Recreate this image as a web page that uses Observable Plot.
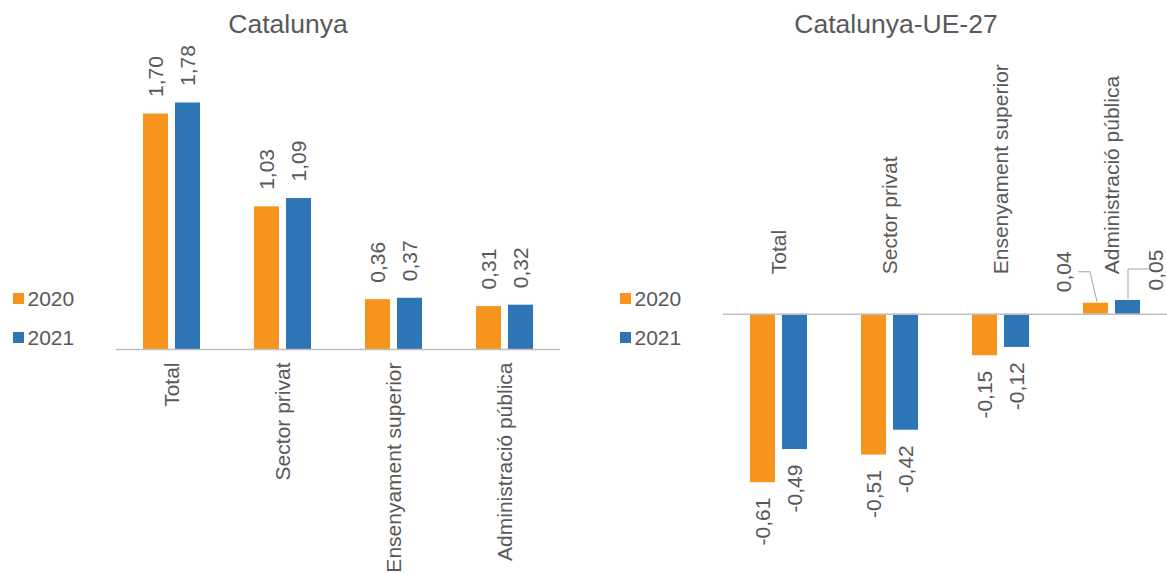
<!DOCTYPE html>
<html><head><meta charset="utf-8">
<script src="https://cdn.jsdelivr.net/npm/d3@7"></script>
<script src="https://cdn.jsdelivr.net/npm/@observablehq/plot@0.6"></script>
<style>
body{margin:0;background:#fff;}
#wrap{position:relative;width:1167px;height:573px;overflow:hidden;font-family:"Liberation Sans",Arial,sans-serif;color:#595959;background:#fff;}
.panel{position:absolute;top:0;}
.title{position:absolute;top:11px;font-size:26.5px;line-height:26px;text-align:center;white-space:nowrap;}
.lg{position:absolute;font-size:21px;line-height:21px;white-space:nowrap;}
.sw{position:absolute;width:10.5px;height:11px;}
</style></head><body><div id="wrap"></div>
<script>
// ---- data ----
const categories = ["Total", "Sector privat", "Ensenyament superior", "Administració pública"];
const years = ["2020", "2021"];
const colors = ["#F7941D", "#2E75B6"];
const titles = ["Catalunya", "Catalunya-UE-27"];
const catalunya2020 = [1.70, 1.03, 0.36, 0.31];
const catalunya2021 = [1.78, 1.09, 0.37, 0.32];
const diffUE2020 = [-0.61, -0.51, -0.15, 0.04];
const diffUE2021 = [-0.49, -0.42, -0.12, 0.05];

const fmt = v => v.toFixed(2).replace(".", ",");
const rows = (vals, year) => categories.map((c, i) => ({cat: c, year, value: vals[i]}));
const FONT = '"Liberation Sans", Arial, sans-serif';
const style = {fontFamily: FONT, fontSize: "21px", color: "#595959", background: "transparent", overflow: "visible"};
const AXIS = "#bfbfbf";

const wrap = document.getElementById("wrap");

// ---- left panel: Catalunya ----
const L20 = rows(catalunya2020, years[0]), L21 = rows(catalunya2021, years[1]);
const left = Plot.plot({
  width: 583, height: 573,
  marginLeft: 116, marginRight: 23, marginTop: 72, marginBottom: 224,
  x: {domain: categories, padding: 0, axis: null},
  y: {domain: [0, 2], axis: null},
  style,
  marks: [
    Plot.barY(L20, {x: "cat", y: "value", fill: colors[0], insetLeft: 27, insetRight: 59}),
    Plot.barY(L21, {x: "cat", y: "value", fill: colors[1], insetLeft: 59, insetRight: 27}),
    Plot.ruleY([0], {stroke: AXIS, strokeWidth: 1.5}),
    Plot.text(L20, {x: "cat", y: "value", text: d => fmt(d.value), rotate: -90, textAnchor: "start", dx: -16, dy: -17}),
    Plot.text(L21, {x: "cat", y: "value", text: d => fmt(d.value), rotate: -90, textAnchor: "start", dx: 16, dy: -17}),
    Plot.text(categories, {x: d => d, y: () => 0, text: d => d, rotate: -90, textAnchor: "end", dy: 13})
  ]
});
left.classList.add("panel");
left.style.left = "0px";
wrap.appendChild(left);

// ---- right panel: Catalunya-UE-27 ----
const R20 = rows(diffUE2020, years[0]), R21 = rows(diffUE2021, years[1]);
const neg = a => a.filter(d => d.value < 0), pos = a => a.filter(d => d.value >= 0);

function leaders(index, scales) {
  const {x, y} = scales;
  const bw = x.bandwidth ? x.bandwidth() : 111;
  const g = d3.create("svg:g").attr("fill", "none").attr("stroke", "#a6a6a6").attr("stroke-width", 1);
  for (const d of pos(R20)) {
    const cx = x(d.cat) + bw / 2 - 16, yt = y(d.value);
    g.append("path").attr("d", `M${cx + 1.5},${yt - 1}L${cx - 5.5},${yt - 31}L${cx - 17.5},${yt - 31}`);
  }
  for (const d of pos(R21)) {
    const cx = x(d.cat) + bw / 2 + 16, yt = y(d.value);
    g.append("path").attr("d", `M${cx + 0.5},${yt - 1}L${cx + 0.5},${yt - 31}L${cx + 21},${yt - 31}`);
  }
  return g.node();
}

const right = Plot.plot({
  width: 584, height: 573,
  marginLeft: 140, marginRight: 0, marginTop: 231, marginBottom: 66,
  x: {domain: categories, padding: 0, axis: null},
  y: {domain: [-0.7, 0.3], axis: null},
  style,
  marks: [
    Plot.barY(R20, {x: "cat", y: "value", fill: colors[0], insetLeft: 27, insetRight: 59}),
    Plot.barY(R21, {x: "cat", y: "value", fill: colors[1], insetLeft: 59, insetRight: 27}),
    Plot.ruleY([0], {stroke: AXIS, strokeWidth: 1.5}),
    Plot.text(neg(R20), {x: "cat", y: "value", text: d => fmt(d.value), rotate: -90, textAnchor: "end", dx: -16, dy: 15}),
    Plot.text(neg(R21), {x: "cat", y: "value", text: d => fmt(d.value), rotate: -90, textAnchor: "end", dx: 16, dy: 15}),
    Plot.text(pos(R20), {x: "cat", y: "value", text: d => fmt(d.value), rotate: -90, textAnchor: "start", dx: -48, dy: -11}),
    Plot.text(pos(R21), {x: "cat", y: "value", text: d => fmt(d.value), rotate: -90, textAnchor: "start", dx: 44, dy: -10}),
    leaders,
    Plot.text(categories, {x: d => d, y: () => 0, text: d => d, rotate: -90, textAnchor: "start", dy: -40})
  ]
});
right.classList.add("panel");
right.style.left = "583px";
wrap.appendChild(right);

// ---- titles ----
const titlePos = [{left: 138, width: 300}, {left: 746, width: 300}];
titles.forEach((t, i) => {
  const d = document.createElement("div");
  d.className = "title";
  d.textContent = t;
  d.style.left = titlePos[i].left + "px";
  d.style.width = titlePos[i].width + "px";
  wrap.appendChild(d);
});

// ---- legends ----
[13, 620].forEach(lx => {
  years.forEach((y, i) => {
    const top = 293 + i * 39;
    const sw = document.createElement("div");
    sw.className = "sw";
    sw.style.left = lx + "px";
    sw.style.top = top + "px";
    sw.style.background = colors[i];
    wrap.appendChild(sw);
    const t = document.createElement("div");
    t.className = "lg";
    t.textContent = y;
    t.style.left = (lx + 14.5) + "px";
    t.style.top = (top - 5) + "px";
    wrap.appendChild(t);
  });
});
</script>
</body></html>
